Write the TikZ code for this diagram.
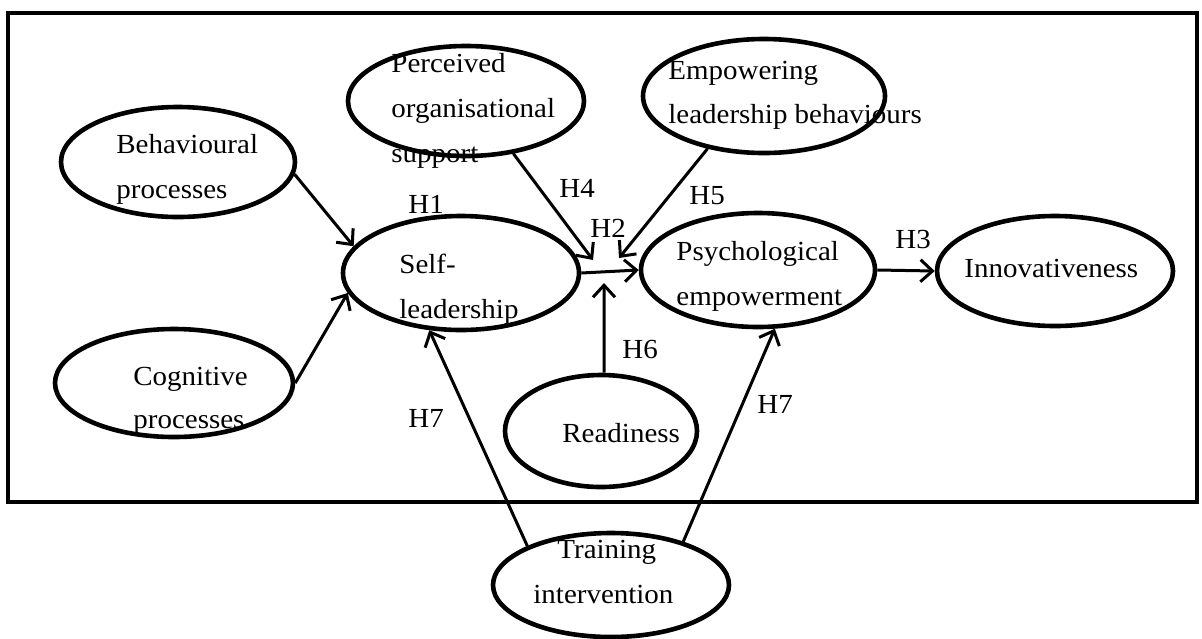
\documentclass[tikz,border=0pt]{standalone}
\usepackage{fontspec}
\setmainfont[FakeStretch=1.05]{Liberation Serif}
\usetikzlibrary{shapes.geometric,arrows.meta}

\begin{document}
\begin{tikzpicture}[x=0.5pt,y=-0.5pt,
  construct/.style={ellipse, draw, line width=2.3pt, inner sep=0pt},
  link/.style={line width=1.5pt, -{Straight Barb[length=6pt,width=11pt,line width=1.5pt]}},
  lbl/.style={inner sep=0pt, anchor=base west, font=\fontsize{13.8}{16}\selectfont},
  frame/.style={draw, line width=2pt}]
\useasboundingbox (0,0) rectangle (1202,638);

% outer frame
\draw[frame] (8,13) rectangle (1197,502);

% constructs (ellipses)
\node[construct, minimum width=117pt, minimum height=55pt] (bp)    at (178,162) {};
\node[construct, minimum width=119pt, minimum height=54pt] (cp)    at (174,383) {};
\node[construct, minimum width=118pt, minimum height=55pt] (pos)   at (466,101) {};
\node[construct, minimum width=121pt, minimum height=57pt] (elb)   at (764,96)  {};
\node[construct, minimum width=118pt, minimum height=57pt] (sl)    at (461,273) {};
\node[construct, minimum width=117pt, minimum height=57pt] (pe)    at (758,270) {};
\node[construct, minimum width=118pt, minimum height=55pt] (inn)   at (1055,271) {};
\node[construct, minimum width=96pt,  minimum height=56pt] (rd)    at (601,431) {};
\node[construct, minimum width=118pt, minimum height=52pt] (ti)    at (611,585) {};

% construct names
\node[lbl] (bpA)  at (116,153) {Behavioural};
\node[lbl] (bpB)  at (116,198) {processes};
\node[lbl] (cpA)  at (133,385) {Cognitive};
\node[lbl] (cpB)  at (133,428) {processes};
\node[lbl] (posA) at (391,72)  {Perceived};
\node[lbl] (posB) at (391,117) {organisational};
\node[lbl] (posC) at (391,162) {support};
\node[lbl] (elbA) at (668,79)  {Empowering};
\node[lbl] (elbB) at (668,123) {leadership behaviours};
\node[lbl] (slA)  at (399,273) {Self-};
\node[lbl] (slB)  at (399,318) {leadership};
\node[lbl] (peA)  at (676,260) {Psychological};
\node[lbl] (peB)  at (676,305) {empowerment};
\node[lbl] (innA) at (964,277) {Innovativeness};
\node[lbl] (rdA)  at (562,442) {Readiness};
\node[lbl] (tiA)  at (557,558) {Training};
\node[lbl] (tiB)  at (533,603) {intervention};

% moderator landing points on the H2 path
\coordinate (m4) at (593,260);
\coordinate (m5) at (619,258);
\coordinate (m6) at (604,283);

% paths
\draw[link] (bp.-6)   -- (sl.166);
\draw[link] (cp.east) -- (sl.190);
\draw[link] (sl.east) -- (pe.west);
\draw[link] (pos.-48) -- (m4);
\draw[link] (elb.-137) -- (m5);
\draw[link] (rd.87)   -- (m6);
\draw[link] (pe.east) -- (inn.west);
\draw[link] (ti.155)  -- (sl.241);
\draw[link] (ti.31)   -- (pe.-74);

% hypothesis labels
\node[lbl] (h1)  at (408,213) {H1};
\node[lbl] (h4)  at (559,197) {H4};
\node[lbl] (h5)  at (689,204) {H5};
\node[lbl] (h2)  at (590,237) {H2};
\node[lbl] (h3)  at (895,248) {H3};
\node[lbl] (h6)  at (622,358) {H6};
\node[lbl] (h7a) at (408,427) {H7};
\node[lbl] (h7b) at (757,413) {H7};
\end{tikzpicture}
\end{document}
